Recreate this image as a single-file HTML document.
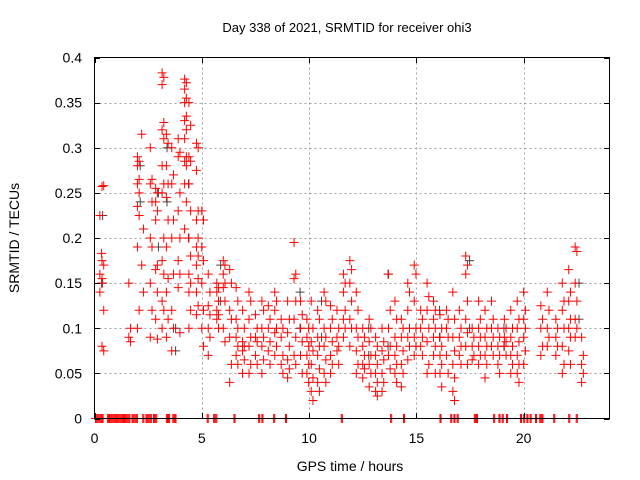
<!DOCTYPE html>
<html><head><meta charset="utf-8"><style>
body{margin:0;background:#fff}
svg{display:block;font-family:"Liberation Sans",sans-serif}
</style></head><body>
<svg id="c" width="640" height="480" viewBox="0 0 640 480">
<rect width="640" height="480" fill="#fff"/>
<g id="grid"></g>
<g id="pts"></g>
<rect x="94.5" y="57.5" width="515" height="361" fill="none" stroke="#000" stroke-width="1"/>
<g id="ticks"></g>
<text x="347" y="32" font-size="13" text-anchor="middle">Day 338 of 2021, SRMTID for receiver ohi3</text>
<text x="350" y="471" font-size="14" text-anchor="middle">GPS time / hours</text>
<text x="19" y="238" font-size="14" text-anchor="middle" transform="rotate(-90 19 238)">SRMTID / TECUs</text>
</svg>
<script>
const xTicks=[0,5,10,15,20];
const yTicks=[0,0.05,0.1,0.15,0.2,0.25,0.3,0.35,0.4];
const yTickLabels=["0","0.05","0.1","0.15","0.2","0.25","0.3","0.35","0.4"];
const redHours=[0.25,0.35,1.6,2.0,2.2,2.6,2.85,3.15,3.35,3.6,3.9,4.2,4.4,4.75,5.0,5.3,5.7,6.0,6.3,6.6,6.9,7.2,7.5,7.8,8.1,8.4,8.7,9.0,9.3,9.6,9.9,10.1,10.4,10.7,11.0,11.3,11.6,11.9,12.2,12.5,12.8,13.1,13.4,13.7,14.0,14.3,14.6,14.9,15.2,15.5,15.8,16.1,16.4,16.7,17.0,17.3,17.6,17.9,18.2,18.5,18.8,19.1,19.4,19.7,20.0,20.8,21.1,21.5,21.8,22.1,22.4,22.7];
const redTec=[
[0.225,0.183,0.16,0.15,0.14],[0.257,0.258,0.175,0.17,0.155,0.12,0.08,0.075],[0.15,0.1,0.09,0.085],
[0.29,0.285,0.28,0.265,0.26,0.25,0.235,0.225,0.19,0.12,0.1],[0.315,0.21,0.17,0.14],
[0.3,0.265,0.26,0.24,0.2,0.19,0.15,0.12,0.09],[0.255,0.25,0.24,0.23,0.22,0.17,0.165,0.14,0.11,0.088],
[0.383,0.378,0.37,0.328,0.32,0.31,0.28,0.26,0.25,0.2,0.175,0.16,0.13,0.12,0.1],
[0.315,0.305,0.28,0.26,0.245,0.22,0.19,0.155,0.14,0.11,0.09],[0.3,0.27,0.26,0.22,0.2,0.16,0.12,0.1,0.075],
[0.31,0.295,0.29,0.25,0.23,0.2,0.175,0.16,0.145,0.095],
[0.376,0.372,0.365,0.355,0.35,0.335,0.33,0.32,0.31,0.29,0.285,0.28,0.26,0.24,0.21],
[0.35,0.325,0.29,0.285,0.26,0.23,0.2,0.18,0.16,0.15,0.14,0.12,0.1],
[0.305,0.3,0.275,0.23,0.22,0.2,0.19,0.18,0.17,0.155,0.14,0.125,0.115],
[0.23,0.22,0.19,0.175,0.15,0.12,0.1,0.08],[0.16,0.14,0.125,0.115,0.1,0.09,0.07],
[0.15,0.145,0.14,0.13,0.12,0.115,0.11,0.1],[0.175,0.17,0.16,0.15,0.145,0.13,0.1,0.085],
[0.165,0.15,0.12,0.11,0.09,0.06,0.04],[0.145,0.13,0.11,0.1,0.09,0.08,0.07,0.06],
[0.12,0.1,0.085,0.08,0.075,0.065,0.05],[0.14,0.13,0.11,0.09,0.08,0.06,0.05],
[0.115,0.1,0.09,0.085,0.07,0.06],[0.13,0.12,0.1,0.09,0.08,0.065,0.05],
[0.125,0.11,0.1,0.085,0.075,0.06],[0.14,0.13,0.12,0.1,0.095,0.08,0.07],
[0.11,0.1,0.09,0.07,0.06,0.05],[0.13,0.11,0.095,0.08,0.065,0.055,0.045],
[0.195,0.16,0.155,0.13,0.11,0.09,0.07,0.06],[0.13,0.115,0.1,0.085,0.07,0.05],
[0.11,0.1,0.09,0.08,0.07,0.06,0.05,0.04],[0.13,0.1,0.085,0.075,0.06,0.045,0.03,0.02],
[0.12,0.11,0.09,0.08,0.07,0.055,0.04,0.03],[0.14,0.13,0.1,0.09,0.08,0.065,0.05,0.04],
[0.125,0.11,0.1,0.085,0.07,0.06,0.05],[0.12,0.1,0.09,0.08,0.075,0.06],
[0.16,0.15,0.14,0.12,0.11,0.1,0.09],[0.175,0.165,0.15,0.13,0.11,0.1,0.08],
[0.14,0.12,0.1,0.09,0.075,0.06,0.05],[0.1,0.09,0.08,0.07,0.06,0.055,0.045],
[0.11,0.1,0.085,0.07,0.06,0.05,0.035],[0.09,0.08,0.07,0.06,0.05,0.04,0.03,0.025],
[0.1,0.085,0.075,0.065,0.05,0.04,0.03],[0.16,0.12,0.1,0.08,0.07,0.055],
[0.13,0.11,0.09,0.08,0.07,0.06,0.05,0.04],[0.11,0.1,0.09,0.075,0.06,0.05,0.035],
[0.15,0.14,0.12,0.1,0.09,0.08,0.065],[0.17,0.16,0.13,0.1,0.09,0.08,0.07],
[0.12,0.11,0.1,0.09,0.08,0.07],[0.15,0.135,0.12,0.1,0.085,0.06,0.05],
[0.13,0.12,0.11,0.1,0.09,0.08,0.07,0.05],[0.115,0.1,0.09,0.08,0.07,0.06,0.05,0.035],
[0.12,0.11,0.1,0.09,0.07,0.05],[0.14,0.11,0.09,0.075,0.06,0.045,0.03,0.02],
[0.12,0.1,0.09,0.08,0.07,0.06],[0.18,0.17,0.16,0.13,0.11,0.095,0.08,0.06],
[0.1,0.09,0.08,0.07,0.065],[0.13,0.11,0.1,0.09,0.08,0.07,0.06],
[0.12,0.1,0.09,0.08,0.07,0.06,0.045],[0.13,0.11,0.1,0.09,0.08,0.07],
[0.1,0.09,0.08,0.07,0.06,0.05],[0.11,0.1,0.09,0.085,0.08,0.07],
[0.12,0.1,0.09,0.08,0.07,0.06,0.05],[0.13,0.11,0.1,0.085,0.07,0.06,0.05,0.04],
[0.14,0.12,0.11,0.1,0.09,0.075,0.06],[0.125,0.11,0.1,0.08,0.07],
[0.14,0.12,0.1,0.09,0.08],[0.11,0.1,0.09,0.08,0.07],
[0.15,0.13,0.12,0.1,0.08,0.06,0.05],[0.165,0.14,0.13,0.11,0.1,0.09,0.075,0.06],
[0.19,0.185,0.15,0.13,0.11,0.1,0.09],[0.09,0.07,0.06,0.05,0.04]];
const grayHours=[0.3,2.05,2.9,3.3,3.7,4.3,5.8,9.5,10.5,12.7,13.6,16.0,17.4,19.0,22.5];
const grayTec=[[0.225,0.15],[0.28,0.24],[0.25,0.19],[0.3,0.24],[0.075,0.1],[0.26,0.2],[0.17,0.13],[0.14,0.1],[0.13,0.09],[0.1,0.07],[0.16,0.08],[0.12,0.09],[0.175,0.1],[0.1,0.08],[0.15,0.11]];
const zeroHours=[0.05,0.15,0.25,0.35,0.6,0.7,0.8,0.9,1.0,1.1,1.2,1.3,1.4,1.5,1.6,1.75,1.85,1.95,2.25,2.4,2.5,2.6,2.75,2.85,3.35,3.45,3.65,3.75,5.25,5.55,5.65,6.5,7.65,7.8,8.35,8.9,11.5,13.8,14.4,16.1,16.6,16.75,16.9,17.7,17.8,18.6,18.85,19.0,19.2,19.85,20.0,20.15,20.3,20.55,20.75,20.85,21.4,22.1,22.45];
const X=h=>94.5+h*(515/24);
const Y=v=>418.5-v*(361/0.4);
const ns="http://www.w3.org/2000/svg";
const grid=document.getElementById('grid'),ticks=document.getElementById('ticks'),pts=document.getElementById('pts');
function mk(tag,attrs,parent){const e=document.createElementNS(ns,tag);for(const k in attrs)e.setAttribute(k,attrs[k]);parent.appendChild(e);return e;}
xTicks.forEach(t=>{const x=Math.round(X(t))+0.5;
 if(t>0){const g=mk('line',{x1:x,x2:x,y1:57.5,y2:418.5,stroke:'#a0a0a0','stroke-dasharray':'2,3'},grid);
 
 }
 const a=mk('line',{x1:x,x2:x,y1:418.5,y2:413,stroke:'#000'},ticks);
 
 
 mk('line',{x1:x,x2:x,y1:57.5,y2:63,stroke:'#000'},ticks);
 const l=mk('text',{x:X(t),y:443,'font-size':14,'text-anchor':'middle'},ticks);l.textContent=t;
 
 });
yTicks.forEach((t,i)=>{const y=Math.round(Y(t))+0.5;
 if(t>0&&t<0.4){const g=mk('line',{x1:94.5,x2:609.5,y1:y,y2:y,stroke:'#a0a0a0','stroke-dasharray':'2,3'},grid);
 
 }
 mk('line',{x1:94.5,x2:100,y1:y,y2:y,stroke:'#000'},ticks);
 mk('line',{x1:609.5,x2:604,y1:y,y2:y,stroke:'#000'},ticks);
 const l=mk('text',{x:82,y:Y(t)+5,'font-size':14,'text-anchor':'end'},ticks);l.textContent=yTickLabels[i];
 
 });
function cross(h,v,col,name){const x=X(h),y=Y(v);
 const p=mk('path',{d:`M${x-4.5} ${y}H${x+4.5}M${x} ${y-4.5}V${y+4.5}`,stroke:col,'stroke-width':1,fill:'none'},pts);
 
 }
grayHours.forEach((h,i)=>grayTec[i].forEach(v=>cross(h+0.08,v,'#444','gray-point')));
redHours.forEach((h,i)=>redTec[i].forEach((v,j)=>cross(h+(j%2)*0.08,v,'#ff0000','red-point')));
zeroHours.forEach(h=>{cross(h,0,'#ff0000','zero-point');cross(h+0.05,0,'#ff0000','zero-point');});
</script>
</body></html>
